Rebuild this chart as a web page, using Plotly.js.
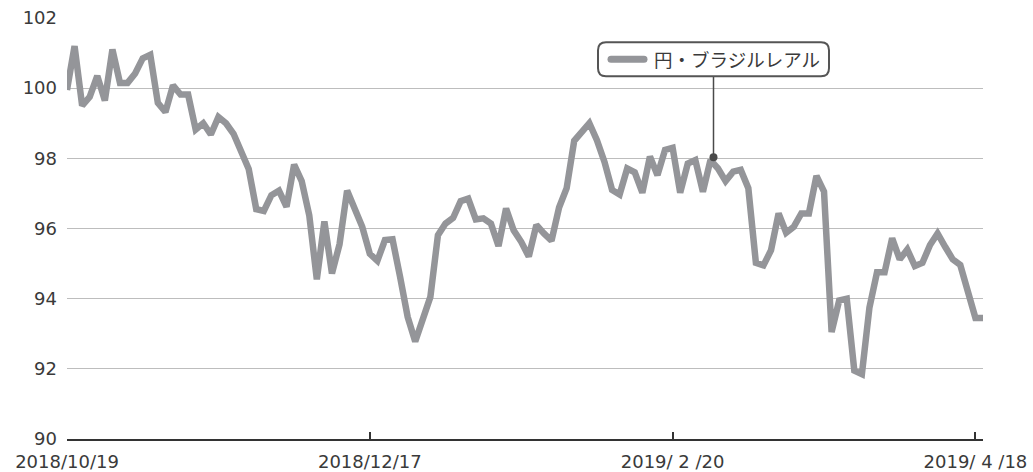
<!DOCTYPE html>
<html>
<head>
<meta charset="utf-8">
<script src="https://cdn.plot.ly/plotly-3.0.1.min.js"></script>
<style>
  html, body { margin: 0; padding: 0; background: #fff; }
  #chart { width: 1033px; height: 472px; }
</style>
</head>
<body>
<div id="chart"></div>
<script>
// ---- data ----
const seriesName = '円・ブラジルレアル';
const tickPositions = [0, 40, 80, 120];
const tickLabels = ['2018/10/19', '2018/12/17', '2019/ 2 /20', '2019/ 4 /18'];
const values = [
  99.95, 101.2, 99.5, 99.75, 100.35, 99.65, 101.1, 100.15, 100.15, 100.42,
  100.85, 100.95, 99.58, 99.32, 100.08, 99.82, 99.82, 98.82, 99.0, 98.68,
  99.18, 99.0, 98.7, 98.2, 97.7, 96.55, 96.5, 96.95, 97.08, 96.62,
  97.82, 97.35, 96.38, 94.55, 96.2, 94.72, 95.55, 97.08, 96.52, 96.05,
  95.28, 95.08, 95.67, 95.69, 94.62, 93.48, 92.78, 93.35, 94.05, 95.81,
  96.14, 96.3, 96.78, 96.85, 96.26, 96.29, 96.14, 95.5, 96.57, 95.95,
  95.62, 95.2, 96.1, 95.86, 95.65, 96.6, 97.15, 98.5, 98.76, 99.0,
  98.52, 97.9, 97.1, 96.97, 97.71, 97.6, 97.02, 98.05, 97.52, 98.24,
  98.3, 97.02, 97.85, 97.95, 97.05, 97.95, 97.71, 97.35, 97.62, 97.67,
  97.15, 95.02, 94.95, 95.38, 96.43, 95.88, 96.05, 96.43, 96.43, 97.5,
  97.05, 93.05, 93.95, 94.0, 91.95, 91.85, 93.75, 94.75, 94.75, 95.72,
  95.12, 95.4, 94.93, 95.02, 95.53, 95.86, 95.48, 95.12, 94.96, 94.2,
  93.45, 93.45
];
const xIndex = values.map((_, i) => i);
// point where the label callout is attached
const calloutX = 85.4;
const calloutY = 98.03;

const lineColor = '#949599';
const textColor = '#3a3a3a';
const labelFont = '"DejaVu Sans", "Noto Sans", sans-serif';
const cjkFont = '"Noto Sans CJK JP", "Noto Sans", sans-serif';

const trace = {
  x: xIndex,
  y: values,
  type: 'scatter',
  mode: 'lines',
  name: seriesName,
  line: { color: lineColor, width: 6.5, shape: 'linear' },
  hoverinfo: 'skip'
};

// rounded-rectangle path in pixel units relative to an anchor
function roundRect(x0, y0, x1, y1, r) {
  return `M ${x0 + r},${y0} L ${x1 - r},${y0} Q ${x1},${y0} ${x1},${y0 + r} ` +
         `L ${x1},${y1 - r} Q ${x1},${y1} ${x1 - r},${y1} L ${x0 + r},${y1} ` +
         `Q ${x0},${y1} ${x0},${y1 - r} L ${x0},${y0 + r} Q ${x0},${y0} ${x0 + r},${y0} Z`;
}

const anchorCommon = {
  xref: 'x', yref: 'y',
  xsizemode: 'pixel', ysizemode: 'pixel',
  xanchor: calloutX, yanchor: calloutY
};

const shapes = [
  // connector
  Object.assign({}, anchorCommon, {
    type: 'line', x0: 0, x1: 0, y0: 0, y1: 81,
    line: { color: '#4a4a4a', width: 1.5 }
  }),
  // dot
  Object.assign({}, anchorCommon, {
    type: 'circle', x0: -4, x1: 4, y0: -4, y1: 4,
    fillcolor: '#4a4a4a', line: { color: '#4a4a4a', width: 0 }
  }),
  // legend box
  Object.assign({}, anchorCommon, {
    type: 'path', path: roundRect(-115.5, 81, 115.5, 115, 8),
    fillcolor: '#ffffff', line: { color: '#555555', width: 2 }
  }),
  // legend line sample (pill)
  Object.assign({}, anchorCommon, {
    type: 'path', path: roundRect(-106, 94.5, -66, 101.5, 3.5),
    fillcolor: lineColor, line: { color: lineColor, width: 0 }
  })
];

const annotations = [{
  xref: 'x', yref: 'y', x: calloutX, y: calloutY,
  xshift: -62, yshift: 98,
  xanchor: 'left', yanchor: 'middle',
  text: seriesName, showarrow: false,
  font: { family: cjkFont, size: 18.5, color: textColor }
}];

const layout = {
  width: 1033, height: 472,
  margin: { l: 67, r: 50, t: 18, b: 33, pad: 0 },
  paper_bgcolor: '#ffffff', plot_bgcolor: '#ffffff',
  showlegend: false,
  font: { family: labelFont, size: 18, color: textColor },
  xaxis: {
    range: [0, 121],
    tickmode: 'array', tickvals: tickPositions, ticktext: tickLabels,
    showgrid: false, zeroline: false,
    showline: true, linecolor: '#333333', linewidth: 2,
    ticks: 'inside', ticklen: 7, tickwidth: 2, tickcolor: '#333333',
    ticklabelstandoff: 5,
    tickfont: { family: labelFont, size: 18, color: textColor },
    fixedrange: true
  },
  yaxis: {
    range: [90, 102], dtick: 2, tick0: 90,
    showgrid: true, gridcolor: '#bdbdbd', gridwidth: 1,
    zeroline: false, showline: false, ticks: '',
    ticklabelstandoff: 9,
    tickfont: { family: labelFont, size: 18, color: textColor },
    fixedrange: true
  },
  shapes: shapes,
  annotations: annotations
};

Plotly.newPlot('chart', [trace], layout, { staticPlot: true, displayModeBar: false });
</script>
</body>
</html>
